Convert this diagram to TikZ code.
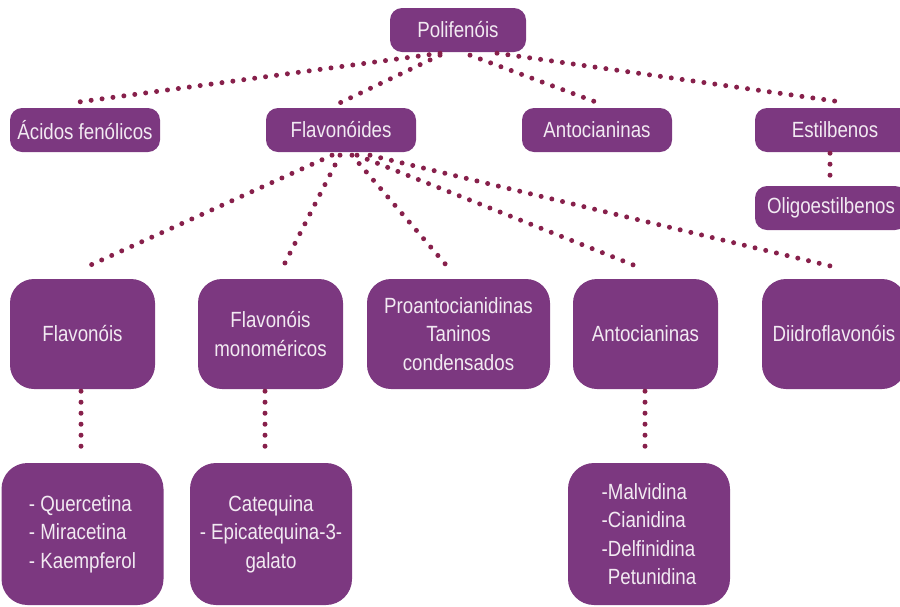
\documentclass[tikz,border=0pt]{standalone}
\usepackage{fontspec}
\setmainfont{Liberation Sans}[FakeStretch=0.85]
\definecolor{boxfill}{RGB}{124,56,128}
\definecolor{dotcol}{RGB}{135,32,75}
\definecolor{txtcol}{RGB}{242,234,242}
\begin{document}
\begin{tikzpicture}[x=1pt,y=-1pt,
  box/.style={draw=none,fill=boxfill,rounded corners=12pt,inner sep=0pt,
    text=txtcol,font=\fontsize{22}{28.5}\selectfont,align=center},
  small/.style={box,minimum width=150pt,minimum height=44pt},
  mid/.style={box,rounded corners=24pt,minimum width=145pt,minimum height=110pt},
  big/.style={box,rounded corners=26pt,minimum width=162pt,minimum height=142pt},
  dotline/.style={draw=dotcol,line width=5pt,line cap=round,dash pattern=on 0pt off 11pt}]
\useasboundingbox (0,0) rectangle (900,606);
% top
\node[small,minimum width=136pt] (poli) at (458,30) {Polifenóis};
\node[small] (acid) at (85,130) {Ácidos fenólicos};
\node[small] (flav) at (341,130) {Flavonóides};
\node[small] (anto) at (597,130) {Antocianinas};
\node[small,minimum width=160pt] (estil) at (835,130) {Estilbenos};
\node[small,minimum width=152pt] (oligo) at (831,208) {Oligoestilbenos};
% second row
\node[mid] (flavo) at (82.5,334) {Flavonóis};
\node[mid] (mono) at (270.5,334) {Flavonóis\\monoméricos};
\node[mid,minimum width=183pt] (proa) at (458.5,334) {Proantocianidinas\\Taninos\\condensados};
\node[mid] (anto2) at (645.5,334) {Antocianinas};
\node[mid,minimum width=144pt] (diid) at (834,334) {Diidroflavonóis};
% third row
\node[big,align=left] (quer) at (82.5,534) {- Quercetina\\- Miracetina\\- Kaempferol};
\node[big] (cate) at (271,534) {Catequina\\- Epicatequina-3-\\galato};
\node[big,align=left] (malv) at (649,534) {-Malvidina\\-Cianidina\\-Delfinidina\\\hphantom{-}Petunidina};
% connectors from Polifenois
\draw[dotline] ([xshift=-18pt,yshift=-1pt]poli.south) -- ([xshift=-5pt,yshift=6pt]acid.north);
\draw[dotline] ([xshift=-18pt,yshift=-3pt]poli.south) -- ([xshift=-1pt,yshift=5pt]flav.north);
\draw[dotline] ([xshift=12pt,yshift=-3pt]poli.south) -- ([xshift=1pt,yshift=5pt]anto.north);
\draw[dotline] ([xshift=39pt,yshift=-1pt]poli.south) -- ([xshift=5pt,yshift=6pt]estil.north);
% connectors from Flavonoides
\draw[dotline] ([xshift=-9pt,yshift=-3pt]flav.south) -- ([xshift=2pt,yshift=11pt]flavo.north);
\draw[dotline] ([xshift=-1pt,yshift=-3pt]flav.south) -- ([xshift=12pt,yshift=11pt]mono.north);
\draw[dotline] ([xshift=11pt,yshift=-3pt]flav.south) -- ([xshift=-10pt,yshift=11pt]proa.north);
\draw[dotline] ([xshift=16pt,yshift=-3pt]flav.south) -- ([xshift=-5pt,yshift=11pt]anto2.north);
\draw[dotline] ([xshift=29pt,yshift=-3pt]flav.south) -- ([xshift=4pt,yshift=11pt]diid.north);
% vertical connectors
\draw[dotline] ([xshift=-5pt,yshift=-1pt]estil.south) -- ([xshift=-1pt,yshift=6pt]oligo.north);
\draw[dotline] ([xshift=-1.5pt,yshift=-2pt]flavo.south) -- ([xshift=-1.5pt,yshift=8pt]quer.north);
\draw[dotline] ([xshift=-5.5pt,yshift=-2pt]mono.south) -- ([xshift=-6pt,yshift=8pt]cate.north);
\draw[dotline] ([xshift=-0.5pt,yshift=-2pt]anto2.south) -- ([xshift=-4pt,yshift=8pt]malv.north);
\end{tikzpicture}
\end{document}
